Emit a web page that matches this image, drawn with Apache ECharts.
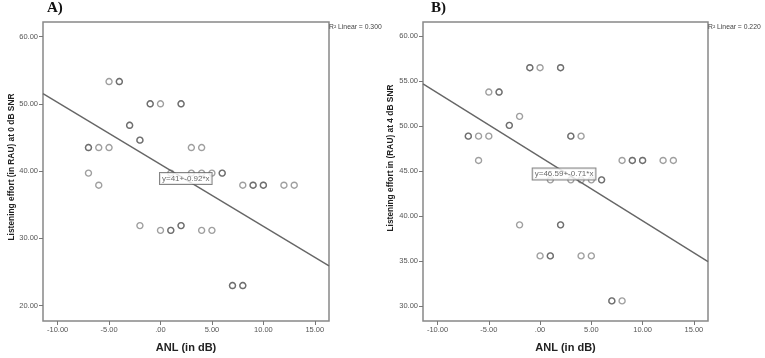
<!DOCTYPE html>
<html>
<head>
<meta charset="utf-8">
<script src="https://cdn.jsdelivr.net/npm/echarts@6/dist/echarts.min.js"></script>
<style>
  html, body { margin: 0; padding: 0; background: #fff; }
  #chart { width: 765px; height: 358px; }
</style>
</head>
<body>
<div id="chart"></div>
<script>
// panel A: effort at 0 dB SNR vs ANL (duplicates repeated so they draw darker)
const pointsA = [
  [-5, 53.3], [-4, 53.3], [-4, 53.3],
  [-1, 50], [-1, 50], [0, 50], [2, 50], [2, 50],
  [-3, 46.8], [-3, 46.8], [-2, 44.6], [-2, 44.6],
  [-7, 43.5], [-7, 43.5], [-6, 43.5], [-5, 43.5], [3, 43.5], [4, 43.5],
  [-7, 39.7], [1, 39.7], [3, 39.7], [4, 39.7], [5, 39.7], [6, 39.7], [6, 39.7],
  [-6, 37.9], [8, 37.9], [9, 37.9], [9, 37.9], [10, 37.9], [10, 37.9], [12, 37.9], [13, 37.9],
  [-2, 31.9], [2, 31.9], [2, 31.9],
  [0, 31.2], [1, 31.2], [1, 31.2], [4, 31.2], [5, 31.2],
  [7, 23], [7, 23], [8, 23], [8, 23]
];

// panel B: effort at 4 dB SNR vs ANL
const pointsB = [
  [-1, 56.5], [-1, 56.5], [0, 56.5], [2, 56.5], [2, 56.5],
  [-5, 53.8], [-4, 53.8], [-4, 53.8],
  [-2, 51.1], [-3, 50.1], [-3, 50.1],
  [-7, 48.9], [-7, 48.9], [-6, 48.9], [-5, 48.9], [3, 48.9], [3, 48.9], [4, 48.9],
  [-6, 46.2], [8, 46.2], [9, 46.2], [9, 46.2], [10, 46.2], [10, 46.2], [12, 46.2], [13, 46.2],
  [1, 44.05], [3, 44.05], [4, 44.05], [5, 44.05], [6, 44.05], [6, 44.05],
  [-2, 39.05], [2, 39.05], [2, 39.05],
  [0, 35.6], [1, 35.6], [1, 35.6], [4, 35.6], [5, 35.6],
  [7, 30.6], [7, 30.6], [8, 30.6]
];

// fit lines: [intercept, slope]
const fitA = [41, -0.92];
const fitB = [46.59, -0.71];
const fitLabels = ['y=41+-0.92*x', 'y=46.59+-0.71*x'];
const r2Labels = ['R\u00b2 Linear = 0.300', 'R\u00b2 Linear = 0.220'];
const panelTitles = ['A)', 'B)'];
const yTitles = ['Listening effort (in RAU) at 0 dB SNR', 'Listening effort in (RAU) at 4 dB SNR'];

const xTicks = [-10, -5, 0, 5, 10, 15];
const yTicksA = [20, 30, 40, 50, 60];
const yTicksB = [30, 35, 40, 45, 50, 55, 60];

const xMin = -11.42, xMax = 16.38;

const chart = echarts.init(document.getElementById('chart'));

const fmt = (v) => {
  if (v === 0) return '.00';
  return v.toFixed(2);
};

const lineData = (fit) => [[xMin, fit[0] + fit[1] * xMin], [xMax, fit[0] + fit[1] * xMax]];

const mkX = (idx) => ({
  type: 'value',
  gridIndex: idx,
  min: xMin,
  max: xMax,
  name: 'ANL (in dB)',
  nameLocation: 'middle',
  nameGap: 21,
  nameTextStyle: { fontFamily: 'Liberation Sans', fontWeight: 'bold', fontSize: 11, color: '#222' },
  axisLine: { show: false, onZero: false },
  splitLine: { show: false },
  axisTick: { show: true, length: 4, customValues: xTicks, lineStyle: { color: '#777' } },
  axisLabel: { customValues: xTicks, formatter: fmt, margin: 5, fontSize: 7.5, color: '#555', fontFamily: 'Liberation Sans' }
});

const mkY = (idx, min, max, ticks) => ({
  type: 'value',
  gridIndex: idx,
  min: min,
  max: max,
  axisLine: { show: false, onZero: false },
  splitLine: { show: false },
  axisTick: { show: true, length: 4, customValues: ticks, lineStyle: { color: '#777' } },
  axisLabel: { customValues: ticks, formatter: fmt, margin: 5, fontSize: 7.5, color: '#555', fontFamily: 'Liberation Sans' }
});

const pointStyle = {
  color: 'rgba(0,0,0,0)',
  borderColor: 'rgba(60,60,60,0.62)',
  borderWidth: 1.4
};

const labelSeries = (idx, pos, text) => ({
  type: 'scatter',
  xAxisIndex: idx,
  yAxisIndex: idx,
  z: 5,
  symbolSize: 0,
  silent: true,
  data: [pos],
  label: {
    show: true,
    position: 'inside',
    formatter: text,
    backgroundColor: '#fff',
    borderColor: '#666',
    borderWidth: 1,
    padding: [2, 2, 1, 2],
    fontSize: 8,
    color: '#444',
    fontFamily: 'Liberation Sans'
  }
});

const option = {
  backgroundColor: '#fff',
  animation: false,
  grid: [
    { left: 43, top: 22, width: 286, height: 300, show: true, borderColor: '#888', borderWidth: 1.5, backgroundColor: '#fff' },
    { left: 423, top: 22, width: 285, height: 300, show: true, borderColor: '#888', borderWidth: 1.5, backgroundColor: '#fff' }
  ],
  xAxis: [mkX(0), mkX(1)],
  yAxis: [mkY(0, 17.73, 62.15, yTicksA), mkY(1, 28.37, 61.58, yTicksB)],
  graphic: [
    { type: 'text', left: 47, top: 1, style: { text: panelTitles[0], font: 'bold 15px "Liberation Serif"', fill: '#111' } },
    { type: 'text', left: 431, top: 1, style: { text: panelTitles[1], font: 'bold 15px "Liberation Serif"', fill: '#111' } },
    { type: 'text', left: 329, top: 24, style: { text: r2Labels[0], font: '6.8px "Liberation Sans"', fill: '#444' } },
    { type: 'text', left: 708, top: 24, style: { text: r2Labels[1], font: '6.8px "Liberation Sans"', fill: '#444' } },
    { type: 'text', x: 12, y: 167, rotation: Math.PI / 2,
      style: { text: yTitles[0], font: 'bold 8.4px "Liberation Sans"', fill: '#222', align: 'center', verticalAlign: 'middle' } },
    { type: 'text', x: 391, y: 158, rotation: Math.PI / 2,
      style: { text: yTitles[1], font: 'bold 8.4px "Liberation Sans"', fill: '#222', align: 'center', verticalAlign: 'middle' } }
  ],
  series: [
    { type: 'scatter', xAxisIndex: 0, yAxisIndex: 0, symbol: 'circle', symbolSize: 6, itemStyle: pointStyle, data: pointsA },
    { type: 'scatter', xAxisIndex: 1, yAxisIndex: 1, symbol: 'circle', symbolSize: 6, itemStyle: pointStyle, data: pointsB },
    { type: 'line', xAxisIndex: 0, yAxisIndex: 0, showSymbol: false, lineStyle: { color: '#666', width: 1.4 }, data: lineData(fitA) },
    { type: 'line', xAxisIndex: 1, yAxisIndex: 1, showSymbol: false, lineStyle: { color: '#666', width: 1.4 }, data: lineData(fitB) },
    labelSeries(0, [2.46, 38.9], fitLabels[0]),
    labelSeries(1, [2.34, 44.7], fitLabels[1])
  ]
};

chart.setOption(option);
</script>
</body>
</html>
